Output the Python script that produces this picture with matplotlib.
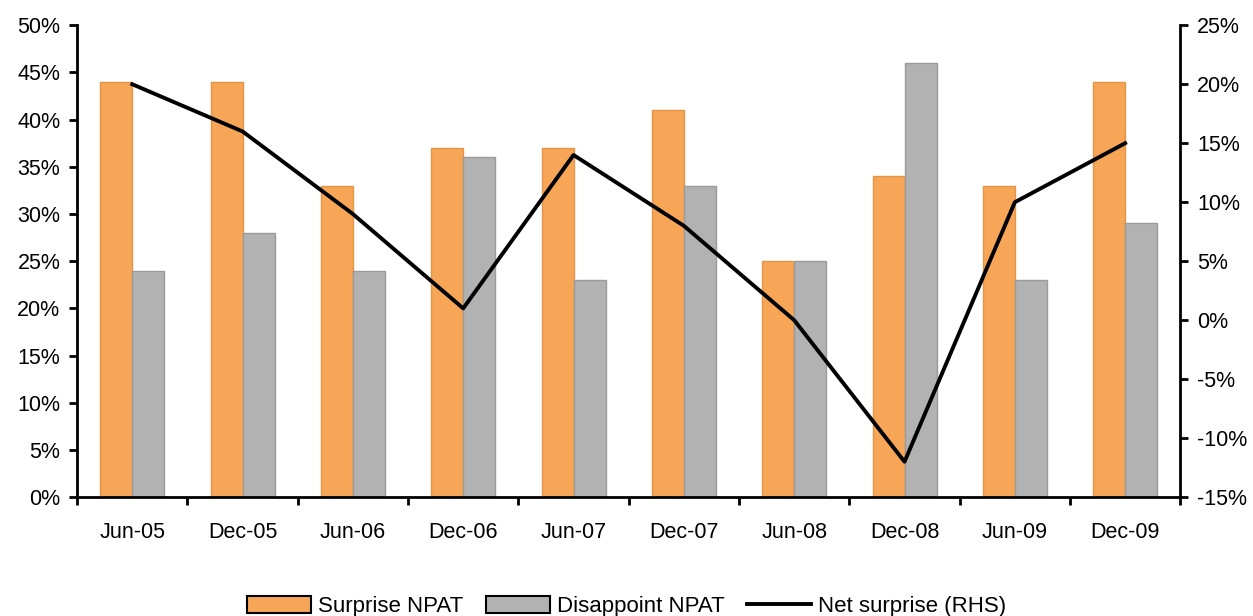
import matplotlib.pyplot as plt
import matplotlib.ticker as mticker
import numpy as np

plt.rcParams['font.family'] = ['Liberation Sans', 'DejaVu Sans']

periods = ['Jun-05', 'Dec-05', 'Jun-06', 'Dec-06', 'Jun-07',
           'Dec-07', 'Jun-08', 'Dec-08', 'Jun-09', 'Dec-09']
surprise = [44, 44, 33, 37, 37, 41, 25, 34, 33, 44]
disappoint = [24, 28, 24, 36, 23, 33, 25, 46, 23, 29]
net = [20, 16, 9, 1, 14, 8, 0, -12, 10, 15]

x = np.arange(len(periods))
w = 0.29
fs = 15.5

fig = plt.figure(figsize=(12.53, 6.16), dpi=100)
ax = fig.add_axes([0.0615, 0.193, 0.8805, 0.766])
ax2 = ax.twinx()

b1 = ax.bar(x - w/2, surprise, w, color='#F7A657', edgecolor='#E39446', lw=1, label='Surprise NPAT')
b2 = ax.bar(x + w/2, disappoint, w, color='#B2B2B2', edgecolor='#9A9A9A', lw=1, label='Disappoint NPAT')
ln, = ax2.plot(x, net, color='black', lw=2.8, label='Net surprise (RHS)')

ax.set_xlim(-0.5, len(periods) - 0.5)
ax.set_ylim(0, 50)
ax2.set_ylim(-15, 25)
ax.set_yticks(np.arange(0, 51, 5))
ax2.set_yticks(np.arange(-15, 26, 5))
ax.yaxis.set_major_formatter(mticker.FuncFormatter(lambda v, p: f'{v:.0f}%'))
ax2.yaxis.set_major_formatter(mticker.FuncFormatter(lambda v, p: f'{v:.0f}%'))

ax.set_xticks(np.arange(-0.5, len(periods), 1))
ax.set_xticklabels([])
ax.set_xticks(x, minor=True)
ax.set_xticklabels(periods, minor=True)
ax.tick_params(axis='x', which='minor', length=0, pad=18, labelsize=fs)
ax.tick_params(axis='x', which='major', length=6, width=2, direction='out')
ax.tick_params(axis='y', length=6, width=2, direction='out', labelsize=fs, pad=6)
ax2.tick_params(axis='y', length=6, width=2, direction='out', labelsize=fs, pad=6)

for a in (ax, ax2):
    a.spines['top'].set_visible(False)
    for s in ('left', 'right', 'bottom'):
        a.spines[s].set_linewidth(2)
ax.spines['right'].set_visible(False)
ax2.spines['left'].set_visible(False)
ax2.spines['bottom'].set_visible(False)

leg = fig.legend([b1, b2, ln], ['Surprise NPAT', 'Disappoint NPAT', 'Net surprise (RHS)'],
                 loc='center', bbox_to_anchor=(0.5, 0.015), ncol=3, frameon=False,
                 fontsize=16, handlelength=2.9, handleheight=0.8,
                 handletextpad=0.3, columnspacing=1.0)
for h in leg.legend_handles[:2]:
    h.set_edgecolor('black')
    h.set_linewidth(1.5)

fig.savefig('out.png', dpi=100)
